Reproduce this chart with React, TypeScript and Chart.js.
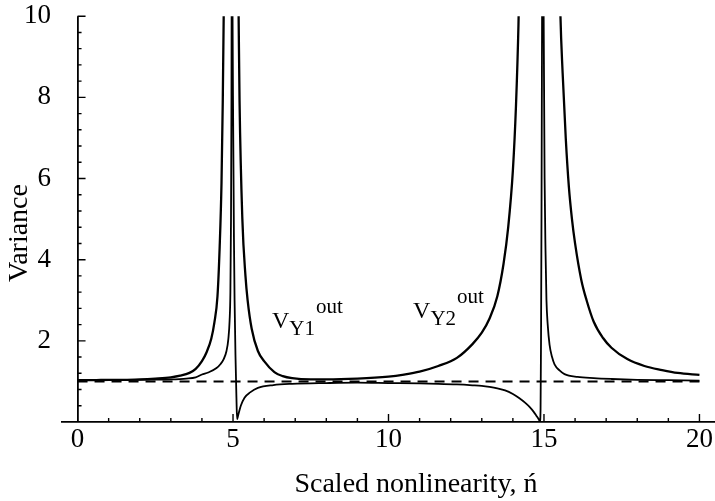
import React, { useEffect, useRef } from 'react';
import { Chart, registerables } from 'chart.js';

Chart.register(...registerables);

// ---- data ----
const X_TICKS = [0, 5, 10, 15, 20];
const Y_TICKS = [2, 4, 6, 8, 10];

// V_Y2^out (outer, broad resonances)
const VY2_X = [
  0, 0.5, 1, 1.5, 2, 2.5, 3, 3.3, 3.6, 3.8, 4.0, 4.15, 4.3, 4.4, 4.5, 4.57, 4.63, 4.67, 4.7, 4.72,
  5.15, 5.18, 5.21, 5.3, 5.4, 5.47, 5.6, 5.8, 6.0, 6.33, 6.6, 6.9, 7.5, 8, 9, 10, 10.5, 11, 11.6, 12.2, 12.7, 13.0, 13.25, 13.5, 13.7, 13.85, 14.0, 14.1, 14.18, 14.22,
  15.48, 15.53, 15.6, 15.7, 15.8, 15.9, 16.0, 16.2, 16.37, 16.6, 16.9, 17.17, 17.68, 18.23, 18.8, 19.3, 20,
];
const VY2_V = [
  1.03, 1.03, 1.04, 1.04, 1.05, 1.07, 1.1, 1.14, 1.21, 1.31, 1.5, 1.72, 2.05, 2.45, 3.1, 4.3, 5.9, 7.9, 10.0, 12,
  12, 10, 7.9, 5.0, 3.6, 3.0, 2.3, 1.75, 1.5, 1.23, 1.13, 1.08, 1.05, 1.05, 1.07, 1.12, 1.17, 1.24, 1.38, 1.58, 1.92, 2.2, 2.55, 3.1, 3.9, 4.8, 6.2, 7.8, 9.8, 11.5,
  12, 10, 8.6, 7.0, 5.8, 5.0, 4.4, 3.5, 3.0, 2.47, 2.07, 1.83, 1.55, 1.38, 1.28, 1.21, 1.16,
];

// V_Y1^out (inner, narrow pole/zero pairs)
const VY1_X = [
  0, 1, 2, 3, 3.5, 3.8, 4.0, 4.2, 4.47, 4.6, 4.7, 4.79, 4.85, 4.89, 4.915, 4.935, 4.95, 4.96,
  4.975, 4.985, 5.0, 5.03, 5.05, 5.08, 5.11, 5.13, 5.16, 5.25, 5.37, 5.55, 5.8, 6.3, 6.9, 8, 9, 10, 11,
  11.6, 12.2, 12.7, 13.0, 13.25, 13.5, 13.75, 14.0, 14.2, 14.4, 14.55, 14.67, 14.76, 14.83, 14.87, 14.89, 14.905, 14.92, 14.935, 14.95,
  14.97, 14.99, 15.02, 15.05, 15.08, 15.12, 15.18, 15.26, 15.34, 15.5, 15.66, 16.08, 16.6, 17.17, 18, 19, 20,
];
const VY1_V = [
  1.03, 1.03, 1.04, 1.05, 1.07, 1.1, 1.17, 1.22, 1.33, 1.43, 1.55, 1.75, 2.05, 2.5, 3.2, 5.0, 8.0, 12,
  12, 10, 7.9, 4.5, 3.0, 1.6, 0.6, 0.07, 0.15, 0.4, 0.6, 0.73, 0.84, 0.91, 0.94, 0.96, 0.97, 0.96, 0.95,
  0.94, 0.925, 0.905, 0.89, 0.865, 0.83, 0.78, 0.69, 0.59, 0.47, 0.36, 0.25, 0.15, 0.07, 0.02, 0.3, 2.0, 5.0, 9.0, 12,
  12, 10, 6.0, 4.2, 3.0, 2.4, 1.9, 1.6, 1.42, 1.27, 1.18, 1.11, 1.08, 1.06, 1.04, 1.03, 1.02,
];

// shot-noise reference level
const REF_X = [0, 20];
const REF_V = [1, 1];

// curve labels
const LABEL_SUB = ['Y1', 'Y2'];
const LABEL_X = [6.25, 10.79];
const LABEL_Y = [2.32, 2.56];

const X_TITLE = 'Scaled nonlinearity, ń';
const Y_TITLE = 'Variance';

const FONT = "'Liberation Serif', 'Times New Roman', serif";

const pts = (xs: number[], ys: number[]) => xs.map((x, i) => ({ x, y: ys[i] }));

export default function App() {
  const ref = useRef<HTMLCanvasElement>(null);

  useEffect(() => {
    if (!ref.current) return;

    const marks = {
      id: 'axisMarks',
      afterDraw(chart: any) {
        const { ctx } = chart;
        const xs = chart.scales.x;
        const ys = chart.scales.y;
        const x0 = xs.getPixelForValue(0);
        const y0 = ys.getPixelForValue(0);
        ctx.save();
        ctx.strokeStyle = '#000';
        ctx.lineWidth = 1.4;
        ctx.beginPath();
        for (let i = 1; i <= 20; i++) {
          const px = xs.getPixelForValue(i);
          const len = i % 5 === 0 ? 8 : 4;
          ctx.moveTo(px, y0);
          ctx.lineTo(px, y0 - len);
        }
        for (let i = 1; i <= 25; i++) {
          const py = ys.getPixelForValue(i * 0.4);
          const len = i % 5 === 0 ? 8 : 4;
          ctx.moveTo(x0, py);
          ctx.lineTo(x0 + len, py);
        }
        ctx.stroke();

        ctx.fillStyle = '#000';
        ctx.textAlign = 'left';
        ctx.textBaseline = 'alphabetic';
        LABEL_SUB.forEach((sub, i) => {
          const px = xs.getPixelForValue(LABEL_X[i]);
          const py = ys.getPixelForValue(LABEL_Y[i]);
          ctx.font = `24px ${FONT}`;
          ctx.fillText('V', px, py);
          const w = ctx.measureText('V').width;
          ctx.font = `21px ${FONT}`;
          ctx.fillText(sub, px + w, py + 7);
          const w2 = ctx.measureText(sub).width;
          ctx.font = `21px ${FONT}`;
          ctx.fillText('out', px + w + w2 + 1, py - 15);
        });

        // axis titles
        ctx.font = `28px ${FONT}`;
        ctx.textAlign = 'center';
        ctx.fillText(X_TITLE, 416, 492);
        ctx.translate(27, 233);
        ctx.rotate(-Math.PI / 2);
        ctx.fillText(Y_TITLE, 0, 0);
        ctx.restore();
      },
    };

    const chart = new Chart(ref.current, {
      type: 'line',
      data: {
        datasets: [
          {
            label: 'ref',
            data: pts(REF_X, REF_V),
            borderColor: '#000',
            borderWidth: 2,
            borderDash: [10, 7],
            pointRadius: 0,
            clip: 0,
          },
          {
            label: 'VY2',
            data: pts(VY2_X, VY2_V),
            borderColor: '#000',
            borderWidth: 2.3,
            pointRadius: 0,
            cubicInterpolationMode: 'monotone',
            clip: 0,
          },
          {
            label: 'VY1',
            data: pts(VY1_X, VY1_V),
            borderColor: '#000',
            borderWidth: 1.8,
            pointRadius: 0,
            cubicInterpolationMode: 'monotone',
            clip: 0,
          },
        ],
      },
      options: {
        responsive: false,
        animation: false,
        devicePixelRatio: 1,
        layout: { padding: { top: 16, left: 0, right: 0, bottom: 0 } },
        plugins: { legend: { display: false }, tooltip: { enabled: false } },
        scales: {
          x: {
            type: 'linear',
            min: -0.5,
            max: 20.5,
            position: 'bottom',
            afterBuildTicks: (s: any) => {
              s.ticks = X_TICKS.map((v) => ({ value: v }));
            },
            afterFit: (s: any) => {
              s.height = 79;
            },
            ticks: {
              color: '#000',
              font: { family: FONT, size: 27 },
              padding: 0,
              maxRotation: 0,
              autoSkip: false,
              callback: (v: any) => String(v),
            },
            grid: {
              drawTicks: true,
              tickLength: 2,
              tickColor: 'rgba(0,0,0,0)',
              color: (c: any) => (c.tick && c.tick.value === 0 ? '#000' : 'rgba(0,0,0,0)'),
              lineWidth: 1.8,
            },
            border: { display: true, color: '#000', width: 1.8 },
            title: { display: false },
          },
          y: {
            type: 'linear',
            min: 0,
            max: 10,
            position: 'left',
            afterBuildTicks: (s: any) => {
              s.ticks = Y_TICKS.map((v) => ({ value: v }));
            },
            afterFit: (s: any) => {
              s.width = 62;
            },
            ticks: {
              color: '#000',
              font: { family: FONT, size: 27 },
              padding: 0,
              callback: (v: any) => String(v),
            },
            grid: { display: false, drawTicks: true, tickLength: 11 },
            border: { display: false },
            title: { display: false },
          },
        },
      },
      plugins: [marks],
    });

    return () => chart.destroy();
  }, []);

  return (
    <div style={{ position: 'absolute', left: 0, top: 0, width: 715, height: 501, background: '#fff' }}>
      <canvas ref={ref} width={715} height={501} style={{ display: 'block' }} />
    </div>
  );
}
